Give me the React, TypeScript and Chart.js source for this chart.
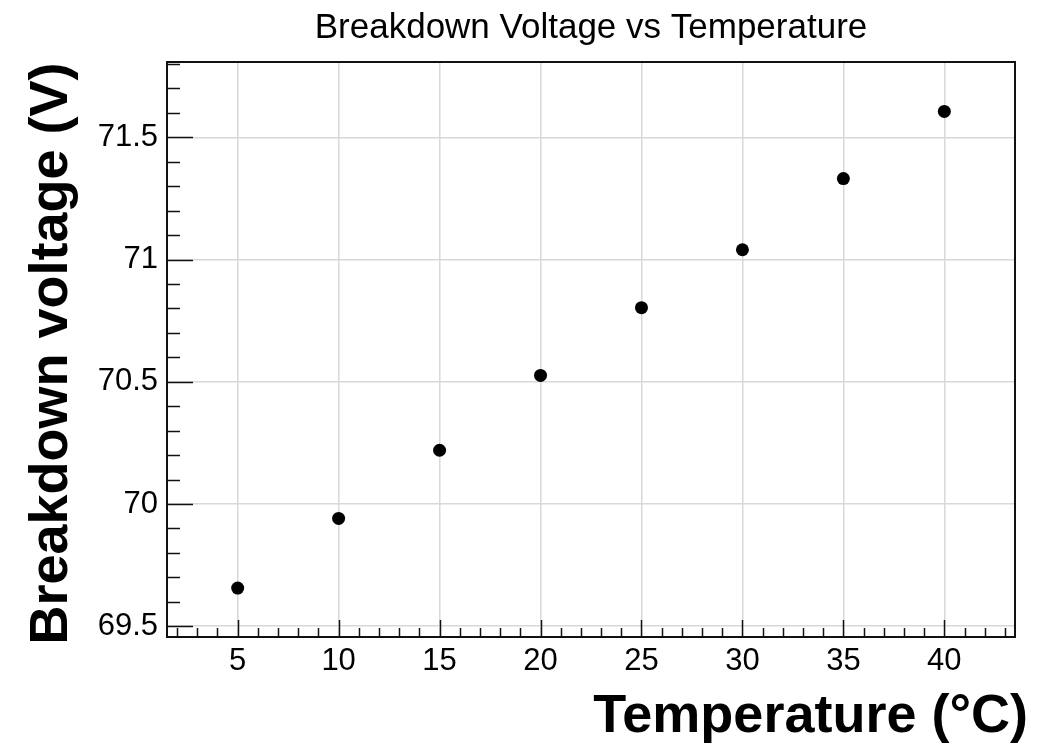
import React, { useEffect, useRef } from "react";
import { Chart, registerables } from "chart.js";

Chart.register(...registerables);

const temperatures = [5, 10, 15, 20, 25, 30, 35, 40];
const voltages = [69.656, 69.941, 70.22, 70.526, 70.803, 71.04, 71.331, 71.606];
const xTickValues = [5, 10, 15, 20, 25, 30, 35, 40];
const yTickValues = [69.5, 70, 70.5, 71, 71.5];
const xRange = [1.5, 43.5];
const yRange = [69.456, 71.808];
const titleText = "Breakdown Voltage vs Temperature";
const xTitle = "Temperature (°C)";
const yTitle = "Breakdown voltage (V)";

const FONT = "'Liberation Sans', Arial, Helvetica, sans-serif";

const rootFramePlugin = {
  id: "rootFrame",
  afterDatasetsDraw(chart: any) {
    const { ctx, chartArea } = chart;
    const { left, right, top, bottom } = chartArea;
    const xs = chart.scales.x;
    const ys = chart.scales.y;
    ctx.save();
    ctx.strokeStyle = "#111";
    ctx.lineWidth = 1.5;
    for (let v = Math.ceil(xRange[0]); v <= Math.floor(xRange[1]); v += 1) {
      const px = Math.round(xs.getPixelForValue(v)) + 0.5;
      const major = v % 5 === 0;
      const len = major ? 17 : 9;
      ctx.beginPath();
      ctx.moveTo(px, bottom);
      ctx.lineTo(px, bottom - len);
      ctx.stroke();
    }
    for (let i = Math.ceil(yRange[0] * 10); i <= Math.floor(yRange[1] * 10); i += 1) {
      const v = i / 10;
      const py = Math.round(ys.getPixelForValue(v)) + 0.5;
      const major = i % 5 === 0;
      const len = major ? 26 : 13;
      ctx.beginPath();
      ctx.moveTo(left, py);
      ctx.lineTo(left + len, py);
      ctx.stroke();
    }
    ctx.lineWidth = 2;
    ctx.strokeRect(left, top, right - left, bottom - top);
    ctx.restore();
  },
  afterDraw(chart: any) {
    const { ctx, chartArea } = chart;
    const { left, right, top, bottom } = chartArea;
    ctx.save();
    ctx.fillStyle = "#000";
    ctx.font = `35px ${FONT}`;
    ctx.textAlign = "center";
    ctx.textBaseline = "alphabetic";
    ctx.fillText(titleText, (left + right) / 2, 38);
    ctx.font = `bold 54px ${FONT}`;
    ctx.textAlign = "right";
    ctx.fillText(xTitle, right + 13, 732);
    ctx.translate(67, (top + bottom) / 2 + 4);
    ctx.rotate(-Math.PI / 2);
    ctx.textAlign = "center";
    ctx.fillText(yTitle, 0, 0);
    ctx.restore();
  },
};

export default function App() {
  const canvasRef = useRef<HTMLCanvasElement | null>(null);

  useEffect(() => {
    document.body.style.margin = "0";
    const canvas = canvasRef.current;
    if (!canvas) return;
    const chart = new Chart(canvas, {
      type: "scatter",
      data: {
        datasets: [
          {
            data: temperatures.map((t, i) => ({ x: t, y: voltages[i] })),
            backgroundColor: "#000",
            borderColor: "#000",
            borderWidth: 0,
            pointRadius: 6.5,
            pointHoverRadius: 6.5,
          },
        ],
      },
      options: {
        responsive: false,
        animation: false,
        devicePixelRatio: 1,
        layout: { padding: { left: 0, right: 44, top: 62, bottom: 60 } },
        plugins: {
          legend: { display: false },
          tooltip: { enabled: false },
          title: { display: false },
        },
        scales: {
          x: {
            type: "linear",
            min: xRange[0],
            max: xRange[1],
            afterBuildTicks: (scale: any) => {
              scale.ticks = xTickValues.map((v) => ({ value: v }));
            },
            afterFit: (scale: any) => {
              scale.height = 46;
            },
            grid: { color: "#d8d8d8", lineWidth: 1.5, drawTicks: false },
            border: { display: false },
            ticks: {
              color: "#000",
              font: { family: FONT, size: 31 },
              padding: 6,
              maxRotation: 0,
              autoSkip: false,
              callback: (v: any) => String(v),
            },
          },
          y: {
            type: "linear",
            min: yRange[0],
            max: yRange[1],
            afterBuildTicks: (scale: any) => {
              scale.ticks = yTickValues.map((v) => ({ value: v }));
            },
            afterFit: (scale: any) => {
              scale.width = 167;
            },
            grid: { color: "#d8d8d8", lineWidth: 1.5, drawTicks: false },
            border: { display: false },
            ticks: {
              color: "#000",
              font: { family: FONT, size: 31 },
              padding: 9,
              autoSkip: false,
              callback: (v: any) => String(Math.round(Number(v) * 10) / 10),
            },
          },
        },
      },
      plugins: [rootFramePlugin],
    });
    return () => chart.destroy();
  }, []);

  return (
    <div style={{ position: "absolute", left: 0, top: 0, width: 1059, height: 743, background: "#fff" }}>
      <canvas ref={canvasRef} width={1059} height={743} style={{ display: "block" }} />
    </div>
  );
}
